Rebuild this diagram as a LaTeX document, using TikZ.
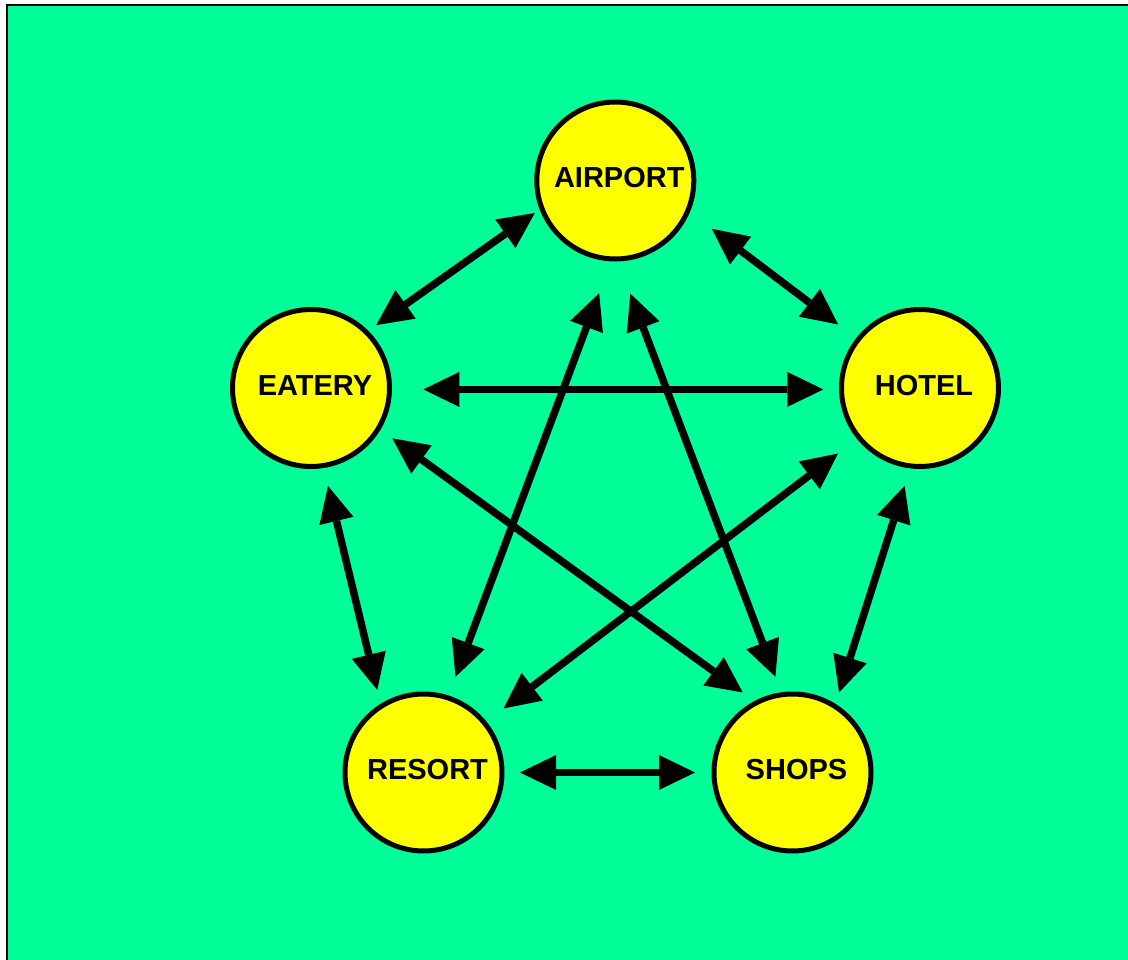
\documentclass[tikz,border=0pt]{standalone}
\usepackage{fontspec}
\setmainfont{Liberation Sans}
\usepackage{tikz}
\usetikzlibrary{arrows.meta}
\definecolor{bggreen}{RGB}{0,255,153}
\definecolor{placeyellow}{RGB}{255,255,0}
\tikzstyle{place} = [circle, draw=black, line width=5pt, fill=placeyellow, minimum size=157pt, inner sep=0pt, font=\fontsize{29}{34}\selectfont\bfseries, text depth=5.5pt, execute at begin node={\hspace*{8pt}}]
\tikzstyle{link} = [line width=7.5pt, {Triangle[length=36pt,width=35pt,line width=0pt]}-{Triangle[length=36pt,width=35pt,line width=0pt]}]

\begin{document}
\begin{tikzpicture}[x=1pt, y=-1pt]
    \useasboundingbox (0,0) rectangle (1128,960);
    \clip (0,0) rectangle (1128,960);

    % Background
    \fill[white] (0,0) rectangle (1128,960);
    \draw[line width=2pt, fill=bggreen] (7,5) rectangle (1140,972);

    % Places
    \node[place] (airport) at (615.3,180.5) {AIRPORT};
    \node[place] (eatery) at (311,388) {EATERY};
    \node[place] (hotel) at (920,388) {HOTEL};
    \node[place] (resort) at (423.5,772.5) {RESORT};
    \node[place] (shops) at (792.5,772.5) {SHOPS};

    % Outer links
    \draw[link, shorten <=6pt, shorten >=9.7pt] (airport.201) -- (eatery.45);
    \draw[link, shorten <=27.6pt, shorten >=22.6pt] (airport.337) -- (hotel.142);
    \draw[link, shorten <=18.3pt, shorten >=12pt] (hotel.263) -- (shops.58);
    \draw[link, shorten <=15.5pt, shorten >=16.5pt] (resort.0) -- (shops.180);
    \draw[link, shorten <=18.4pt, shorten >=14.4pt] (eatery.279) -- (resort.122);

    % Inner links (star)
    \draw[link, shorten <=31.3pt, shorten >=15.7pt] (eatery.359) -- (hotel.181);
    \draw[link, shorten <=34pt, shorten >=19.9pt] (airport.267) -- (resort.72);
    \draw[link, shorten <=34.5pt, shorten >=16.6pt] (airport.272) -- (shops.98);
    \draw[link, shorten <=14.7pt, shorten >=14.5pt] (eatery.329) -- (shops.118);
    \draw[link, shorten <=24pt, shorten >=21.5pt] (hotel.219) -- (resort.39);
\end{tikzpicture}
\end{document}
